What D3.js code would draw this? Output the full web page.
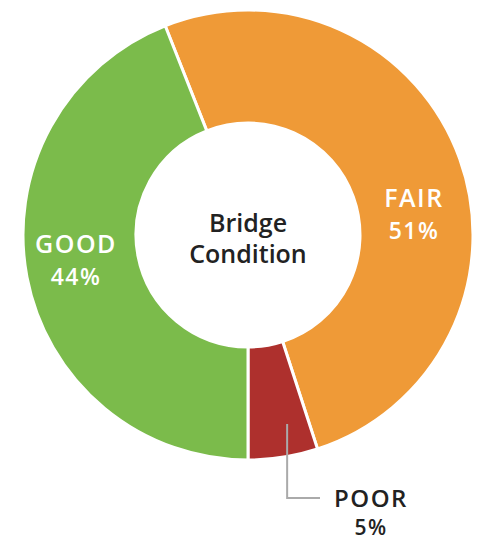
<!DOCTYPE html>
<html>
<head>
<meta charset="utf-8">
<script src="https://cdn.jsdelivr.net/npm/d3@7"></script>
<style>
  html, body { margin: 0; padding: 0; background: #fff; }
  svg { display: block; }
</style>
</head>
<body>
<script>
// Bridge condition shares (percent)
const categories = ["FAIR", "POOR", "GOOD"];
const values = [51, 5, 44];
const colors = ["#ef9a37", "#ae302d", "#7bbb4b"];
const centerTitle = ["Bridge", "Condition"];

const W = 487, H = 542;
const cx = 248, cy = 235;
const outerR = 225, innerR = 112;

const svg = d3.select("body").append("svg")
  .attr("width", W).attr("height", H);

const g = svg.append("g").attr("transform", `translate(${cx},${cy})`);

// POOR closes exactly at the bottom of the ring
const total = d3.sum(values);
const startDeg = 180 - (values[0] + values[1]) / total * 360;
const pie = d3.pie().sort(null).value(d => d)
  .startAngle(startDeg * Math.PI / 180)
  .endAngle(startDeg * Math.PI / 180 + 2 * Math.PI);
const arcs = pie(values);
const arc = d3.arc().innerRadius(innerR).outerRadius(outerR);

g.selectAll("path.slice").data(arcs).enter().append("path")
  .attr("class", "slice")
  .attr("d", arc)
  .attr("fill", (d, i) => colors[i])
  .attr("stroke", "#fff")
  .attr("stroke-width", 3)
  .attr("stroke-linejoin", "round");

const font = "'Open Sans', 'Noto Sans', sans-serif";

// Center title
g.append("text")
  .attr("text-anchor", "middle")
  .attr("font-family", font).attr("font-weight", 600)
  .attr("font-size", 25).attr("fill", "#222")
  .selectAll("tspan").data(centerTitle).enter().append("tspan")
  .attr("x", 0)
  .attr("y", (d, i) => -3 + i * 31)
  .text(d => d);

// In-ring labels (white) for FAIR and GOOD
const labelPos = { FAIR: [166, -28], GOOD: [-172, 18] };
["FAIR", "GOOD"].forEach(name => {
  const i = categories.indexOf(name);
  const [lx, ly] = labelPos[name];
  const t = g.append("text")
    .attr("text-anchor", "middle")
    .attr("font-family", font).attr("font-weight", 600)
    .attr("fill", "#fff").attr("letter-spacing", 1.5);
  t.append("tspan").attr("x", lx).attr("y", ly).attr("font-size", 25).text(name);
  t.append("tspan").attr("x", lx).attr("y", ly + 32).attr("font-size", 23)
    .text(values[i] + "%");
});

// POOR callout with leader line
const pi = categories.indexOf("POOR");
const pa = arcs[pi];
const leadAng = pa.startAngle + (pa.endAngle - pa.startAngle) * 0.35;
const lx0 = Math.sin(leadAng) * (outerR - 32);
const ly0 = -Math.cos(leadAng) * (outerR - 32);
const elbowY = 263, lineEndX = 72;
g.append("path")
  .attr("d", `M${lx0},${ly0} V${elbowY} H${lineEndX}`)
  .attr("fill", "none").attr("stroke", "#aaa").attr("stroke-width", 2);

const pt = g.append("text")
  .attr("text-anchor", "middle")
  .attr("font-family", font).attr("font-weight", 600)
  .attr("fill", "#222").attr("letter-spacing", 1.5);
pt.append("tspan").attr("x", 123).attr("y", 272).attr("font-size", 24).text(categories[pi]);
pt.append("tspan").attr("x", 123).attr("y", 300).attr("font-size", 21).text(values[pi] + "%");
</script>
</body>
</html>
